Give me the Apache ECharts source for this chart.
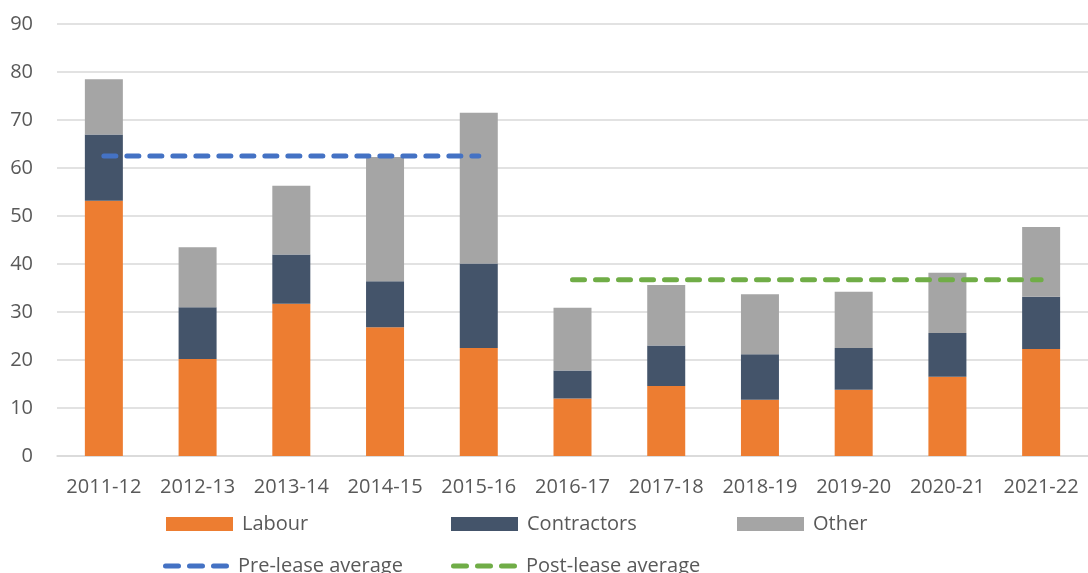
<!DOCTYPE html>
<html>
<head>
<meta charset="utf-8">
<script src="https://cdn.jsdelivr.net/npm/echarts@6/dist/echarts.min.js"></script>
<style>
  html, body { margin: 0; padding: 0; background: #fff; }
  #chart { width: 1088px; height: 573px; }
</style>
</head>
<body>
<div id="chart"></div>
<script>
// data
const years = ["2011-12", "2012-13", "2013-14", "2014-15", "2015-16", "2016-17",
  "2017-18", "2018-19", "2019-20", "2020-21", "2021-22"];
const labour = [53.2, 20.2, 31.7, 26.8, 22.5, 12.0, 14.6, 11.7, 13.8, 16.5, 22.3];
const contractors = [13.8, 10.8, 10.3, 9.6, 17.6, 5.8, 8.4, 9.5, 8.7, 9.1, 10.9];
const other = [11.5, 12.5, 14.3, 25.9, 31.4, 13.1, 12.6, 12.5, 11.7, 12.6, 14.5];
const preLease = [62.5, 62.5, 62.5, 62.5, 62.5, null, null, null, null, null, null];
const postLease = [null, null, null, null, null, 36.7, 36.7, 36.7, 36.7, 36.7, 36.7];

const font = "'Open Sans', sans-serif";
const textColor = "#595959";

//three rounded dashes, used as the legend icon of the average lines
const dashIcon = "path://" + [0, 24, 48].map(function (x) {
  return "M" + (x + 2.5) + ",0 L" + (x + 15.5) + ",0 A2.5,2.5 0 0 1 " + (x + 15.5) +
    ",5 L" + (x + 2.5) + ",5 A2.5,2.5 0 0 1 " + (x + 2.5) + ",0 Z";
}).join(" ");

function barSeries(name, data, color) {
  return {
    name: name,
    type: "bar",
    stack: "total",
    barWidth: 38,
    data: data,
    itemStyle: { color: color },
    emphasis: { disabled: true },
  };
}

function lineSeries(name, data, color) {
  return {
    name: name,
    type: "line",
    data: data,
    symbol: "none",
    z: 5,
    lineStyle: { color: color, width: 5, type: [12, 11], cap: "round" },
    itemStyle: { color: color },
  };
}

//one legend box per item so each sits where the reference has it
function legendAt(name, left, top, icon, w, h) {
  return {
    data: [name],
    left: left,
    top: top,
    icon: icon,
    itemWidth: w,
    itemHeight: h,
    itemGap: 0,
    padding: 0,
    itemStyle: { borderWidth: 0 },
    lineStyle: { width: 0 },
    textStyle: { color: textColor, fontSize: 20, fontFamily: font, padding: [0, 0, 0, 4] },
  };
}

const chart = echarts.init(document.getElementById("chart"));
chart.setOption({
  animation: false,
  backgroundColor: "#fff",
  grid: { left: 57, right: 0, top: 24, bottom: 117 },
  legend: [
    legendAt("Labour", 166, 514, "rect", 67, 14),
    legendAt("Contractors", 451, 514, "rect", 67, 14),
    legendAt("Other", 737, 514, "rect", 67, 14),
    legendAt("Pre-lease average", 163, 556, dashIcon, 66, 5),
    legendAt("Post-lease average", 451, 556, dashIcon, 66, 5),
  ],
  xAxis: {
    type: "category",
    data: years,
    axisTick: { show: false },
    axisLine: { lineStyle: { color: "#d9d9d9", width: 1.5 } },
    axisLabel: { color: textColor, fontSize: 20, fontFamily: font, margin: 21, interval: 0 },
  },
  yAxis: {
    type: "value",
    min: 0,
    max: 90,
    interval: 10,
    axisLine: { show: false },
    axisTick: { show: false },
    splitLine: { lineStyle: { color: "#d9d9d9", width: 1.5 } },
    axisLabel: { color: textColor, fontSize: 20, fontFamily: font, margin: 24 },
  },
  series: [
    barSeries("Labour", labour, "#ED7D31"),
    barSeries("Contractors", contractors, "#44546A"),
    barSeries("Other", other, "#A5A5A5"),
    lineSeries("Pre-lease average", preLease, "#4472C4"),
    lineSeries("Post-lease average", postLease, "#70AD47"),
  ],
});
</script>
</body>
</html>
